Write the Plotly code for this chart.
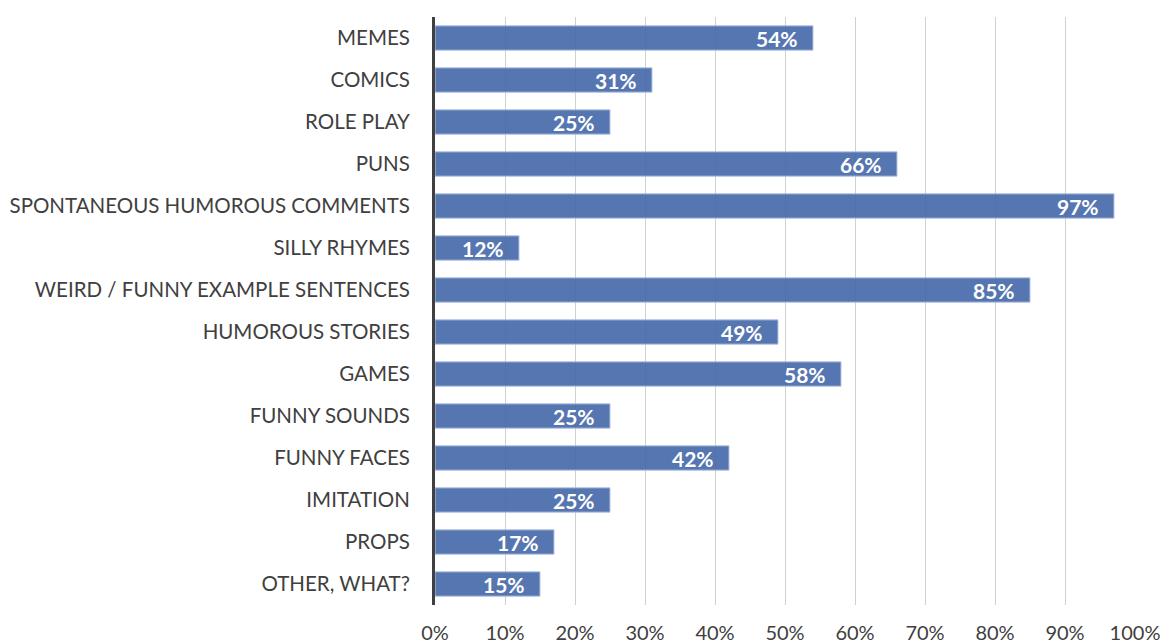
import plotly.graph_objects as go

categories = ["MEMES", "COMICS", "ROLE PLAY", "PUNS", "SPONTANEOUS HUMOROUS COMMENTS",
              "SILLY RHYMES", "WEIRD / FUNNY EXAMPLE SENTENCES", "HUMOROUS STORIES",
              "GAMES", "FUNNY SOUNDS", "FUNNY FACES", "IMITATION", "PROPS", "OTHER, WHAT?"]
values = [54, 31, 25, 66, 97, 12, 85, 49, 58, 25, 42, 25, 17, 15]
tick_vals = [0, 10, 20, 30, 40, 50, 60, 70, 80, 90, 100]
tick_text = ["0%", "10%", "20%", "30%", "40%", "50%", "60%", "70%", "80%", "90%", "100%"]

FONT = "Lato"

fig = go.Figure()
fig.add_trace(go.Bar(
    x=values, y=categories, orientation="h",
    marker=dict(color="rgba(68,103,168,0.9)", line=dict(color="#b4c4e2", width=1)),
    width=0.58,
    hoverinfo="skip",
))

for c, v in zip(categories, values):
    fig.add_annotation(x=v, y=c, text=f"<b>{v}%</b>", showarrow=False,
                       xanchor="right", xshift=-13,
                       font=dict(family=FONT, size=21, color="white"))

fig.update_layout(
    width=1165, height=643,
    margin=dict(l=435, r=30, t=17, b=38),
    paper_bgcolor="white", plot_bgcolor="white",
    showlegend=False,
    font=dict(family=FONT, color="#404040"),
)
fig.update_xaxes(range=[0, 100], tickmode="array", tickvals=tick_vals, ticktext=tick_text,
                 showgrid=True, gridcolor="#d0d0d0", gridwidth=1,
                 zeroline=False, showline=False, automargin=False,
                 tickfont=dict(family=FONT, size=20, color="#404040"),
                 ticklabelstandoff=14, fixedrange=True)
fig.update_yaxes(categoryorder="array", categoryarray=categories, autorange="reversed",
                 showline=True, linecolor="#404040", linewidth=3,
                 showgrid=False, zeroline=False, automargin=False,
                 tickfont=dict(family=FONT, size=20.5, color="#404040"),
                 ticklabelstandoff=18, fixedrange=True)

fig.write_html("out.html")
